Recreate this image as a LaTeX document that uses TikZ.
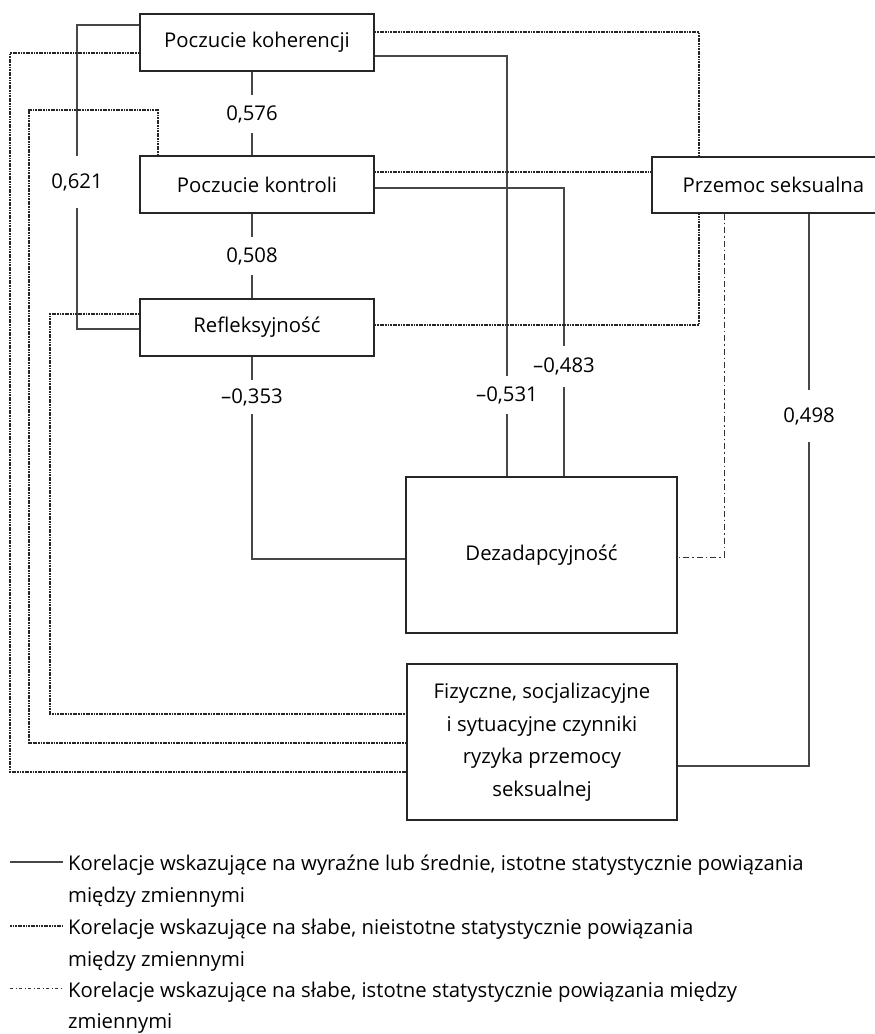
\documentclass[tikz,border=0pt]{standalone}
\usepackage{fontspec}
\setmainfont{Open Sans}
\begin{document}
\begin{tikzpicture}[x=1pt,y=-1pt,
  every node/.style={font=\fontsize{20.3}{32.5}\selectfont},
  box/.style={draw=black!85, line width=1.1pt, inner sep=0pt, align=center},
  solidc/.style={draw=black!72, line width=1.1pt},
  dottedc/.style={draw=black!85, line width=1.1pt, dash pattern=on 1.8pt off 0.8pt},
  dashdotc/.style={draw=black!80, line width=1pt, dash pattern=on 6pt off 3pt on 1.5pt off 3pt},
  lbl/.style={inner sep=0pt, minimum height=38pt},
  legtext/.style={inner sep=0pt, anchor=base west}
]
\useasboundingbox (0,0) rectangle (875,1034);

% boxes
\node[box, minimum width=234pt, minimum height=57pt] (koh) at (257,42.5) {Poczucie koherencji};
\node[box, minimum width=234pt, minimum height=57pt] (kon) at (257,184.5) {Poczucie kontroli};
\node[box, minimum width=234pt, minimum height=57pt] (ref) at (257,327.5) {Refleksyjność};
\node[box, minimum width=243pt, minimum height=56pt] (prz) at (773.5,185) {Przemoc seksualna};
\node[box, minimum width=271pt, minimum height=156pt] (dez) at (541.5,555) {Dezadapcyjność};
\node[box, minimum width=270pt, minimum height=156pt] (fiz) at (542,742) {Fizyczne, socjalizacyjne\\i sytuacyjne czynniki\\ryzyka przemocy\\seksualnej};

% labels
\node[lbl] (l576) at (252,114) {0,576};
\node[lbl] (l508) at (252,256) {0,508};
\node[lbl, minimum height=34pt] (l353) at (252,397) {–0,353};
\node[lbl] (l531) at (507,395) {–0,531};
\node[lbl, minimum height=41pt] (l483) at (564,366.5) {–0,483};
\node[lbl, minimum height=52pt] (l498) at (809,416) {0,498};
\node[lbl, minimum height=51pt] (l621) at (77,182) {0,621};

% solid connectors
\draw[solidc] (l576.north |- koh.south) -- (l576.north);
\draw[solidc] (l576.south) -- (l576.south |- kon.north);
\draw[solidc] (l508.north |- kon.south) -- (l508.north);
\draw[solidc] (l508.south) -- (l508.south |- ref.north);
\draw[solidc] (l353.north |- ref.south) -- (l353.north);
\draw[solidc] (l353.south) |- ([yshift=-4pt]dez.west);
\draw[solidc] ([yshift=17.5pt]koh.west) -| (l621.north);
\draw[solidc] (l621.south) |- ([yshift=-1.5pt]ref.west);
\draw[solidc] ([yshift=-13.5pt]koh.east) -| (l531.north);
\draw[solidc] (l531.south) -- (l531.south |- dez.north);
\draw[solidc] ([yshift=-3.5pt]kon.east) -| (l483.north);
\draw[solidc] (l483.south) -- (l483.south |- dez.north);
\draw[solidc] (l498.north |- prz.south) -- (l498.north);
\draw[solidc] (l498.south) |- ([yshift=-24pt]fiz.east);

% dash-dot connector
\draw[dashdotc] ([xshift=-49.5pt]prz.south) |- ([yshift=-2pt]dez.east);

% dotted connectors
\coordinate (kd) at ([yshift=12.5pt]kon.east);
\coordinate (d1) at (10,772);
\coordinate (e1) at (29,110);
\coordinate (f1) at (50,714);
\draw[dottedc] ([yshift=10.5pt]koh.east) -| ([xshift=-74.5pt]prz.north);
\draw[dottedc] (kd) -- (kd -| prz.west);
\draw[dottedc] ([yshift=2.5pt]ref.east) -| ([xshift=-74.5pt]prz.south);
\draw[dottedc] ([yshift=-10.5pt]koh.west) -| (d1) -- ([yshift=-30pt]fiz.west);
\draw[dottedc] ([xshift=-99pt]kon.north) |- (e1) |- ([yshift=-1pt]fiz.west);
\draw[dottedc] ([yshift=13.5pt]ref.west) -| (f1) -- ([yshift=28pt]fiz.west);

% legend
\coordinate (s1a) at (10,862); \coordinate (s1b) at (63,862);
\coordinate (s2a) at (10,926); \coordinate (s2b) at (63,926);
\coordinate (s3a) at (10,988); \coordinate (s3b) at (63,988);
\draw[solidc] (s1a) -- (s1b);
\draw[dottedc] (s2a) -- (s2b);
\draw[dashdotc, dash pattern=on 3pt off 2.5pt on 1pt off 2.5pt] (s3a) -- (s3b);
\node[legtext] (t1a) at (68,870) {Korelacje wskazujące na wyraźne lub średnie, istotne statystycznie powiązania};
\node[legtext] (t1b) at (68,902) {między zmiennymi};
\node[legtext] (t2a) at (68,934) {Korelacje wskazujące na słabe, nieistotne statystycznie powiązania};
\node[legtext] (t2b) at (68,966) {między zmiennymi};
\node[legtext] (t3a) at (68,997) {Korelacje wskazujące na słabe, istotne statystycznie powiązania między};
\node[legtext] (t3b) at (68,1028) {zmiennymi};
\end{tikzpicture}
\end{document}
